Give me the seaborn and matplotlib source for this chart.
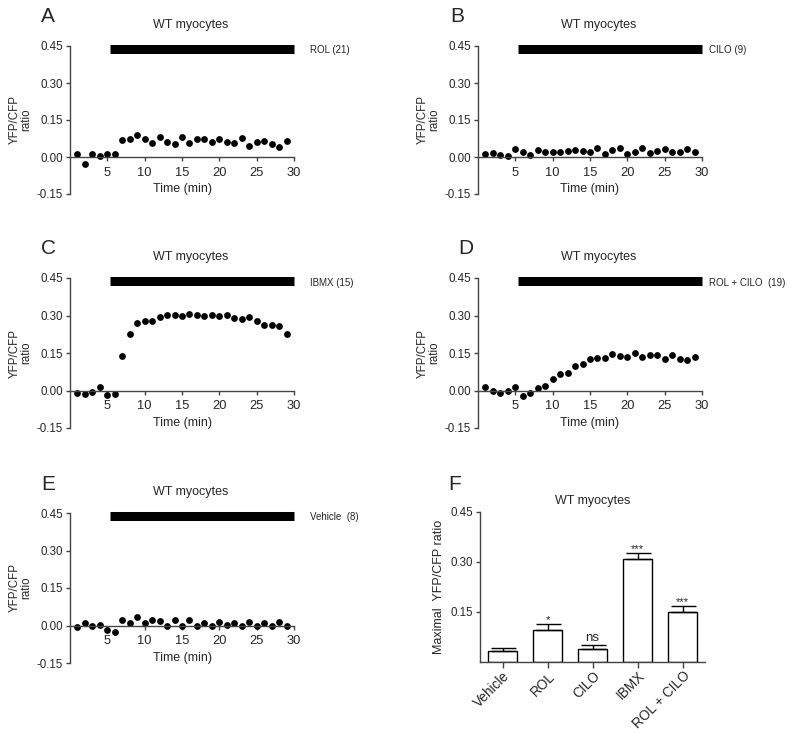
import matplotlib
matplotlib.use("Agg")
import matplotlib.pyplot as plt
import numpy as np
import pandas as pd
import seaborn as sns

sns.set_theme(style="white")
plt.rcParams['font.family'] = ['Liberation Sans', 'DejaVu Sans']

# time course data (min 1..29)
minutes = list(range(1, 30))
rol = [0.011, -0.029, 0.011, 0.004, 0.013, 0.013, 0.067, 0.075, 0.088, 0.074,
       0.056, 0.080, 0.059, 0.051, 0.080, 0.058, 0.075, 0.075, 0.062, 0.075,
       0.062, 0.055, 0.079, 0.046, 0.060, 0.064, 0.054, 0.040, 0.066]
cilo = [0.012, 0.015, 0.007, 0.005, 0.032, 0.019, 0.007, 0.028, 0.019, 0.019,
        0.020, 0.025, 0.028, 0.023, 0.020, 0.035, 0.012, 0.027, 0.037, 0.013,
        0.020, 0.035, 0.016, 0.024, 0.033, 0.020, 0.021, 0.032, 0.020]
ibmx = [-0.009, -0.012, -0.005, 0.015, -0.017, -0.012, 0.138, 0.226, 0.270, 0.280,
        0.280, 0.296, 0.303, 0.301, 0.299, 0.307, 0.301, 0.300, 0.303, 0.299,
        0.303, 0.292, 0.288, 0.293, 0.279, 0.263, 0.264, 0.260, 0.226]
rol_cilo = [0.016, 0.000, -0.008, -0.003, 0.016, -0.020, -0.008, 0.011, 0.020, 0.048,
            0.067, 0.071, 0.100, 0.107, 0.126, 0.131, 0.131, 0.145, 0.139, 0.133,
            0.151, 0.134, 0.142, 0.142, 0.126, 0.142, 0.127, 0.121, 0.133]
vehicle = [-0.004, 0.011, -0.003, 0.001, -0.019, -0.024, 0.024, 0.011, 0.035, 0.012,
           0.023, 0.020, -0.001, 0.024, 0.000, 0.024, 0.000, 0.012, -0.001, 0.016,
           0.001, 0.012, 0.000, 0.016, -0.001, 0.012, -0.001, 0.016, 0.000]

# summary (panel F)
groups = ['Vehicle', 'ROL', 'CILO', 'IBMX', 'ROL + CILO']
max_ratio = [0.032, 0.097, 0.038, 0.310, 0.150]
sem = [0.010, 0.016, 0.013, 0.016, 0.018]
signif = ['', '*', 'ns', '***', '***']

W, H = 800, 733
fig = plt.figure(figsize=(8, 7.33), dpi=100)


def box(left, top, right, bottom):
    return [left / W, 1 - bottom / H, (right - left) / W, (bottom - top) / H]


def time_panel(rect, yvals, letter, label, lx, letter_x):
    ax = fig.add_axes(box(*rect))
    df = pd.DataFrame({'t': minutes, 'y': yvals})
    sns.scatterplot(data=df, x='t', y='y', ax=ax, color='black', s=24,
                    edgecolor='black', linewidth=0, clip_on=False)
    ax.set_xlim(0, 30)
    ax.set_ylim(-0.15, 0.45)
    ax.set_yticks([-0.15, 0, 0.15, 0.30, 0.45])
    ax.set_yticklabels(['-0.15', '0.00', '0.15', '0.30', '0.45'])
    ax.set_xticks([5, 10, 15, 20, 25, 30])
    for s in ['top', 'right']:
        ax.spines[s].set_visible(False)
    ax.spines['bottom'].set_position(('data', 0))
    for s in ['left', 'bottom']:
        ax.spines[s].set_color('#444444')
        ax.spines[s].set_linewidth(1)
    ax.tick_params(axis='both', direction='out', length=3, width=1,
                   color='#444444', pad=2, left=True, bottom=True)
    ax.tick_params(axis='y', labelsize=8.3)
    ax.tick_params(axis='x', labelsize=9.3, pad=4)
    ax.set_xlabel('Time (min)', fontsize=9, labelpad=1)
    ax.xaxis.set_label_coords(0.5, 0.075)
    ax.set_ylabel('YFP/CFP\nratio', fontsize=8.3, linespacing=1.0, labelpad=3)
    # drug application bar
    ax.plot([5.3, 30], [0.438, 0.438], color='black', lw=6.5,
            solid_capstyle='butt', clip_on=False)
    ax.text(lx, 0.432, label, fontsize=7, va='center', ha='left',
            clip_on=False)
    ax.text(0.54, 1.14, 'WT myocytes', transform=ax.transAxes, fontsize=9,
            ha='center', va='center')
    fig.text(letter_x / W, 1 - (rect[1] - 29) / H, letter, fontsize=15,
             ha='center', va='center')
    return ax


time_panel((70, 46, 294, 194), rol, 'A', 'ROL (21)', 32.2, 48)
time_panel((478, 46, 702, 194), cilo, 'B', 'CILO (9)', 31.0, 457)
time_panel((70, 278, 294, 428), ibmx, 'C', 'IBMX (15)', 32.2, 48)
time_panel((478, 278, 702, 428), rol_cilo, 'D', 'ROL + CILO  (19)', 31.0, 466)
time_panel((70, 513, 294, 663), vehicle, 'E', 'Vehicle  (8)', 32.2, 48)

# panel F - bar summary
axf = fig.add_axes(box(480, 512, 705, 662))
dff = pd.DataFrame({'group': groups, 'val': max_ratio})
sns.barplot(data=dff, x='group', y='val', ax=axf, color='white',
            edgecolor='black', linewidth=1, width=0.66, errorbar=None)
axf.errorbar(range(len(groups)), max_ratio, yerr=[np.zeros(len(sem)), sem],
             fmt='none', ecolor='black', elinewidth=1, capsize=9, capthick=1)
for i, (v, e, t) in enumerate(zip(max_ratio, sem, signif)):
    if t == 'ns':
        axf.text(i, v + e + 0.021, t, ha='center', va='center', fontsize=9.5)
    elif t:
        axf.text(i, v + e + 0.012, t, ha='center', va='center', fontsize=8)
axf.set_xlim(-0.5, 4.5)
axf.set_ylim(0, 0.45)
axf.set_yticks([0.15, 0.30, 0.45])
axf.set_yticklabels(['0.15', '0.30', '0.45'])
for s in ['top', 'right']:
    axf.spines[s].set_visible(False)
for s in ['left', 'bottom']:
    axf.spines[s].set_color('#444444')
    axf.spines[s].set_linewidth(1)
axf.tick_params(axis='both', direction='out', length=3, width=1,
                color='#444444', labelsize=8.3, pad=2, left=True, bottom=True)
axf.set_xticks(range(len(groups)))
axf.set_xticklabels(groups, rotation=45, ha='right', rotation_mode='anchor',
                    fontsize=9.8)
axf.tick_params(axis='x', pad=1, length=4)
axf.set_xlabel('')
axf.set_ylabel('Maximal  YFP/CFP ratio', fontsize=9, labelpad=4)
axf.text(0.5, 1.07, 'WT myocytes', transform=axf.transAxes, fontsize=9,
         ha='center', va='center')
fig.text(455 / W, 1 - 485 / H, 'F', fontsize=15, ha='center', va='center')

fig.savefig('out.png', dpi=100, facecolor='white')
